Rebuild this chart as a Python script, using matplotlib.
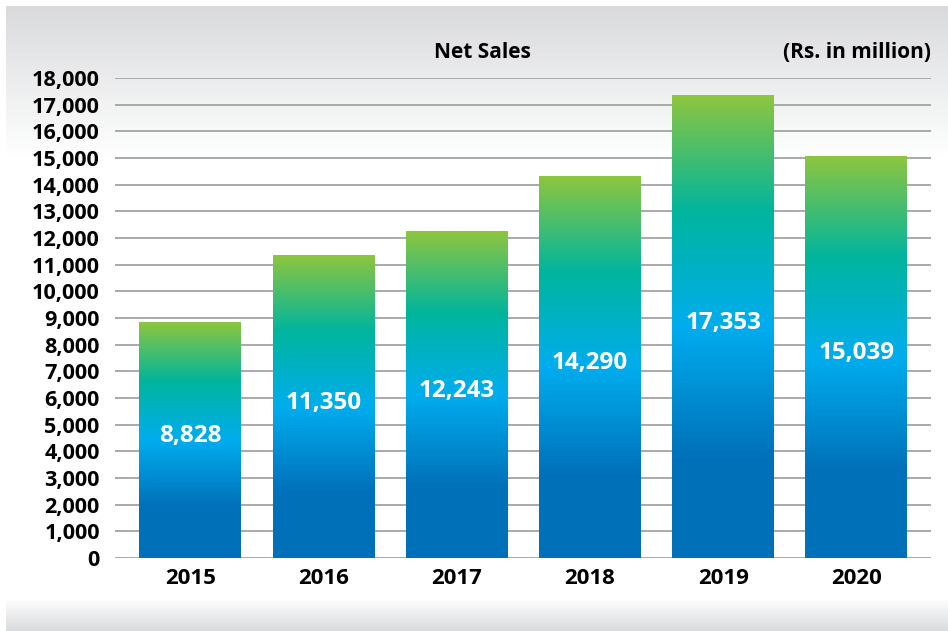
import numpy as np
import matplotlib
matplotlib.use("Agg")
import matplotlib.pyplot as plt
from matplotlib.colors import LinearSegmentedColormap, to_rgb

years = ["2015", "2016", "2017", "2018", "2019", "2020"]
net_sales = [8828, 11350, 12243, 14290, 17353, 15039]
y_ticks = list(range(0, 18001, 1000))

plt.rcParams['font.family'] = ['Open Sans', 'DejaVu Sans']

W, H = 948, 631
fig = plt.figure(figsize=(W / 100, H / 100), dpi=100)

# background panel with grey fades top and bottom
bg = fig.add_axes([0, 0, 1, 1])
bg.set_axis_off()
img = np.ones((H, W, 3))
grey = np.array(to_rgb('#d9dadc'))
rows = np.arange(H)
t_top = np.clip((rows - 6) / 150.0, 0, 1)
t_bot = np.clip((rows - 598) / 33.0, 0, 1)
for r in range(6, H):
    c = grey + (1 - grey) * t_top[r]
    if r >= 598:
        c = np.ones(3) + (grey - 1) * t_bot[r]
    img[r, 6:] = c
bg.imshow(img, extent=[0, W, 0, H], aspect='auto')
bg.set_xlim(0, W)
bg.set_ylim(0, H)

ax = fig.add_axes([115 / W, (H - 558) / H, (931 - 115) / W, (558 - 78) / H])
ax.patch.set_alpha(0)

cmap = LinearSegmentedColormap.from_list('bar', [
    (0.0, '#0070b8'), (0.22, '#0071ba'), (0.5, '#00adee'),
    (0.75, '#00b59d'), (1.0, '#8dc63f')])
grad = np.linspace(0, 1, 256).reshape(-1, 1)

w = 0.765
x = np.arange(len(years))
for i, v in enumerate(net_sales):
    ax.imshow(grad, cmap=cmap, origin='lower', aspect='auto',
              extent=[x[i] - w / 2, x[i] + w / 2, 0, v], zorder=2)
    ax.text(x[i], v / 2 + 150, f"{v:,}", ha='center', va='center',
            color='white', fontsize=17.5, fontweight='bold', zorder=3)

for t in y_ticks:
    ax.axhline(t, color='#a7a9ac', lw=1.4, zorder=1)

ax.set_xlim(-0.565, len(years) - 1 + 0.56)
ax.set_ylim(0, 18000)
ax.set_yticks(y_ticks)
ax.set_yticklabels([f"{t:,}" for t in y_ticks], fontsize=15.6, fontweight='bold')
ax.set_xticks(x)
ax.set_xticklabels(years, fontsize=16, fontweight='bold')
ax.tick_params(length=0, axis='y', pad=11)
ax.tick_params(length=0, axis='x', pad=7)
for s in ax.spines.values():
    s.set_visible(False)

fig.text(482 / W, 1 - 52 / H, "Net Sales", ha='center', va='center',
         fontsize=15, fontweight='bold')
fig.text(931 / W, 1 - 52 / H, "(Rs. in million)", ha='right', va='center',
         fontsize=15, fontweight='bold')

fig.savefig("out.png", dpi=100)
